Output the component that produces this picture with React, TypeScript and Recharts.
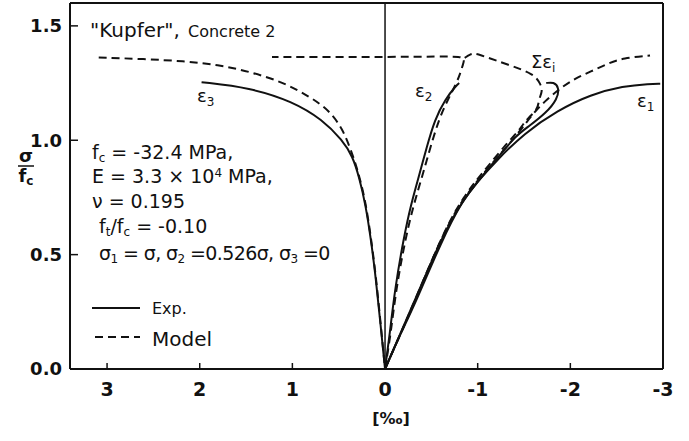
import React from "react"
import { LineChart, Line, XAxis, YAxis, ReferenceLine } from "recharts"

// strain in per mille (x) vs. normalized stress sigma/fc (y)
const expE3 = [
  [0, 0], [0.05, 0.2], [0.1, 0.4], [0.15, 0.56], [0.21, 0.72], [0.28, 0.84], [0.35, 0.93],
  [0.46, 1.0], [0.675, 1.09], [1.0, 1.17], [1.46, 1.23], [1.98, 1.254],
]
const modelE3 = [
  [3.09, 1.362], [2.6, 1.355], [2.18, 1.346], [1.8, 1.33], [1.46, 1.3], [1.1, 1.254], [0.81, 1.19],
  [0.6, 1.13], [0.46, 1.05], [0.38, 0.97], [0.32, 0.9], [0.27, 0.83], [0.21, 0.73], [0.15, 0.57],
  [0.1, 0.41], [0.05, 0.21], [0, 0],
]
const expE2 = [
  [0, 0], [-0.05, 0.15], [-0.107, 0.35], [-0.2, 0.57], [-0.28, 0.72], [-0.364, 0.84], [-0.45, 0.97],
  [-0.536, 1.09], [-0.65, 1.18], [-0.77, 1.24], [-0.8, 1.25],
]
const modelE2 = [
  [0, 0], [-0.06, 0.15], [-0.12, 0.35], [-0.22, 0.57], [-0.31, 0.72], [-0.4, 0.84], [-0.49, 0.97],
  [-0.58, 1.09], [-0.68, 1.18], [-0.76, 1.24], [-0.81, 1.29], [-0.84, 1.33], [-0.86, 1.355],
  [-0.82, 1.366], [-0.6, 1.366], [0, 1.364], [0.6, 1.364], [1.22, 1.364],
]
const expSum = [
  [0, 0], [-0.3, 0.28], [-0.6, 0.565], [-0.84, 0.745], [-1.2, 0.915], [-1.41, 1.02], [-1.55, 1.06],
  [-1.74, 1.12], [-1.86, 1.18], [-1.88, 1.23], [-1.82, 1.255], [-1.74, 1.25],
]
const modelSum = [
  [-0.86, 1.36], [-0.92, 1.377], [-0.97, 1.38], [-1.05, 1.37], [-1.33, 1.33], [-1.61, 1.29],
  [-1.68, 1.245], [-1.7, 1.215], [-1.66, 1.18], [-1.65, 1.136], [-1.55, 1.1], [-1.49, 1.07],
  [-1.44, 1.04], [-1.3, 0.98], [-1.15, 0.905], [-0.84, 0.755], [-0.61, 0.58], [-0.32, 0.29],
  [-0.15, 0.14], [0, 0],
]
const expE1 = [
  [0, 0], [-0.15, 0.14], [-0.32, 0.28], [-0.61, 0.56], [-0.84, 0.74], [-1.0, 0.82], [-1.2, 0.91],
  [-1.5, 1.03], [-1.86, 1.13], [-2.22, 1.2], [-2.57, 1.237], [-2.86, 1.247], [-2.97, 1.247],
]
const modelE1 = [
  [0, 0], [-0.31, 0.285], [-0.6, 0.57], [-0.84, 0.75], [-1.2, 0.92], [-1.44, 1.03], [-1.6, 1.12],
  [-1.75, 1.18], [-1.9, 1.23], [-2.05, 1.27], [-2.22, 1.3], [-2.4, 1.335], [-2.57, 1.36], [-2.86, 1.37],
]

const xTicks = [-3, -2, -1, 0, 1, 2, 3]
const yTicks = [0, 0.5, 1, 1.5]

const toPts = (arr: number[][]) => arr.map(([x, y]) => ({ x, y }))

const font = "DejaVu Sans"
const ink = "#111"
const dash = "8 5"

const series = [
  { name: "e3", data: expE3, model: false },
  { name: "e3m", data: modelE3, model: true },
  { name: "e2", data: expE2, model: false },
  { name: "e2m", data: modelE2, model: true },
  { name: "sum", data: expSum, model: false },
  { name: "summ", data: modelSum, model: true },
  { name: "e1", data: expE1, model: false },
  { name: "e1m", data: modelE1, model: true },
]

export default function App() {
  return (
    <div style={{ position: "absolute", left: 0, top: 0, background: "#fff" }}>
      <LineChart width={689} height={441} margin={{ top: 2, right: 25, bottom: 42, left: 10 }}>
        <XAxis
          xAxisId="b"
          type="number"
          dataKey="x"
          domain={[-3, 3.4]}
          reversed
          ticks={xTicks}
          tickSize={-6}
          tickMargin={20}
          height={30}
          axisLine={{ stroke: ink, strokeWidth: 2 }}
          tickLine={{ stroke: ink, strokeWidth: 1.5 }}
          tick={{ fill: ink, fontSize: 19, fontWeight: "bold", fontFamily: font }}
          tickFormatter={(v) => `${v}`}
        />
        <XAxis
          xAxisId="t"
          orientation="top"
          type="number"
          domain={[-3, 3.4]}
          reversed
          ticks={[-2, -1, 1, 2, 3]}
          tickSize={-6}
          height={1}
          tick={false}
          axisLine={{ stroke: ink, strokeWidth: 2 }}
          tickLine={{ stroke: ink, strokeWidth: 1.5 }}
        />
        <YAxis
          yAxisId="l"
          type="number"
          domain={[0, 1.6]}
          ticks={yTicks}
          width={60}
          tickSize={-8}
          tickMargin={16}
          axisLine={{ stroke: ink, strokeWidth: 2 }}
          tickLine={{ stroke: ink, strokeWidth: 1.5 }}
          tick={{ fill: ink, fontSize: 18, fontWeight: "bold", fontFamily: font }}
          tickFormatter={(v) => v.toFixed(1)}
        />
        <YAxis
          yAxisId="r"
          orientation="right"
          type="number"
          domain={[0, 1.6]}
          ticks={[0.5, 1, 1.5]}
          width={1}
          tickSize={-10}
          tick={false}
          axisLine={{ stroke: ink, strokeWidth: 2 }}
          tickLine={{ stroke: ink, strokeWidth: 1.5 }}
        />
        <ReferenceLine xAxisId="b" yAxisId="l" x={0} stroke={ink} strokeWidth={1.5} />
        {series.map((s) => (
          <Line
            key={s.name}
            xAxisId="b"
            yAxisId="l"
            data={toPts(s.data)}
            dataKey="y"
            type="basis"
            stroke={ink}
            strokeWidth={2}
            strokeDasharray={s.model ? dash : undefined}
            dot={false}
            activeDot={false}
            isAnimationActive={false}
          />
        ))}

        <g fontFamily={font} fill={ink}>
          <text x={90} y={37} fontSize={20}>"Kupfer",</text>
          <text x={188} y={37} fontSize={16}>Concrete 2</text>

          <text x={197} y={102} fontSize={18}>ε<tspan fontSize={12} dy={4}>3</tspan></text>
          <text x={415} y={97} fontSize={18}>ε<tspan fontSize={12} dy={4}>2</tspan></text>
          <text x={531} y={68} fontSize={18}>Σε<tspan fontSize={12} dy={4}>i</tspan></text>
          <text x={637} y={107} fontSize={18}>ε<tspan fontSize={12} dy={4}>1</tspan></text>

          <text x={92} y={159} fontSize={19}>f<tspan fontSize={12} dy={3}>c</tspan><tspan dy={-3}> = -32.4 MPa,</tspan></text>
          <text x={92} y={183} fontSize={19}>E = 3.3 × 10<tspan fontSize={12} dy={-6}>4</tspan><tspan dy={6}> MPa,</tspan></text>
          <text x={92} y={208} fontSize={19}>ν = 0.195</text>
          <text x={99} y={233} fontSize={19}>f<tspan fontSize={12} dy={3}>t</tspan><tspan dy={-3}>/f</tspan><tspan fontSize={12} dy={3}>c</tspan><tspan dy={-3}> = -0.10</tspan></text>
          <text x={99} y={260} fontSize={19} letterSpacing={-0.6}>σ<tspan fontSize={12} dy={3}>1</tspan><tspan dy={-3}> = σ, σ</tspan><tspan fontSize={12} dy={3}>2</tspan><tspan dy={-3}> =0.526σ, σ</tspan><tspan fontSize={12} dy={3}>3</tspan><tspan dy={-3}> =0</tspan></text>

          <line x1={92} y1={308} x2={140} y2={308} stroke={ink} strokeWidth={2} />
          <text x={152} y={314} fontSize={16}>Exp.</text>
          <line x1={95} y1={337} x2={140} y2={337} stroke={ink} strokeWidth={2} strokeDasharray={dash} />
          <text x={152} y={346} fontSize={20}>Model</text>

          <text x={26} y={162} fontSize={18} fontWeight="bold" textAnchor="middle">σ</text>
          <line x1={18} y1={166} x2={34} y2={166} stroke={ink} strokeWidth={1.5} />
          <text x={26} y={182} fontSize={18} fontWeight="bold" textAnchor="middle">f<tspan fontSize={12} dy={3}>c</tspan></text>

          <text x={391} y={424} fontSize={16} fontWeight="bold" textAnchor="middle">[‰]</text>
        </g>
      </LineChart>
    </div>
  )
}
